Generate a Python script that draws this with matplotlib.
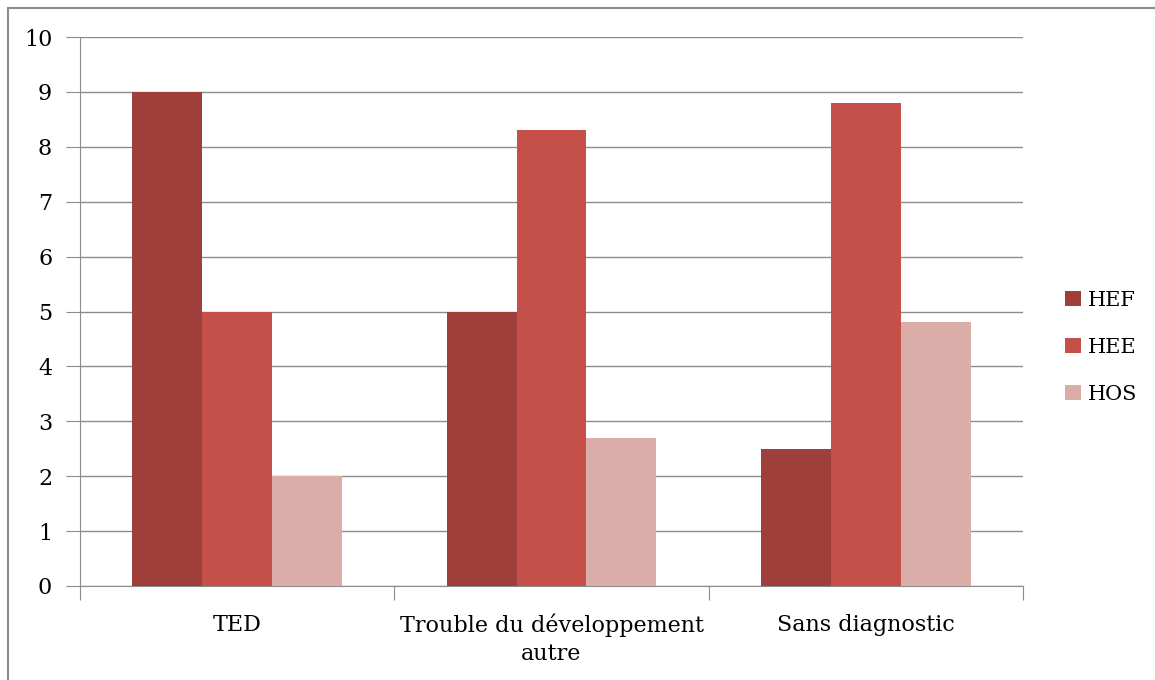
import matplotlib
matplotlib.use("Agg")
import matplotlib.pyplot as plt
import numpy as np
from matplotlib.patches import Rectangle

# data
categories = ["TED", "Trouble du développement\nautre", "Sans diagnostic"]
series = ["HEF", "HEE", "HOS"]
hef = [9.0, 5.0, 2.5]
hee = [5.0, 8.3, 8.8]
hos = [2.0, 2.7, 4.8]
colors = ["#9E3F3B", "#C5504A", "#DBADA8"]

plt.rcParams["font.family"] = ["DejaVu Serif"]

fig = plt.figure(figsize=(11.55, 6.8), dpi=100)
W, H = 1155, 680
ax = fig.add_axes([80 / W, 1 - 586 / H, (1023 - 80) / W, (586 - 37) / H])

# outer chart border (right and bottom edges fall outside the image)
fig.patches.append(Rectangle((8 / W, -0.01), 1.05, 1 - 8 / H + 0.01,
                             transform=fig.transFigure, fill=False,
                             edgecolor="#8c8c8c", linewidth=1.5))

x = np.arange(len(categories))
w = 1 / 4.5
for i, (vals, name) in enumerate(zip([hef, hee, hos], series)):
    ax.bar(x + (i - 1) * w, vals, width=w, color=colors[i], label=name, zorder=3)

ax.set_xlim(-0.5, 2.5)
ax.set_ylim(0, 10)
ax.set_yticks(range(0, 11))
ax.yaxis.grid(True, color="#8c8c8c", linewidth=1)
ax.set_axisbelow(True)
for s in ["top", "right"]:
    ax.spines[s].set_visible(False)
ax.spines["left"].set_color("#8c8c8c")
ax.spines["bottom"].set_color("#8c8c8c")

ax.set_xticks([-0.5, 0.5, 1.5, 2.5])
ax.set_xticklabels([])
ax.set_xticks(x, minor=True)
ax.set_xticklabels(categories, minor=True, fontsize=16, linespacing=1.35)
ax.tick_params(axis="x", which="major", length=10, color="#8c8c8c")
ax.tick_params(axis="x", which="minor", length=0, pad=20)
ax.tick_params(axis="y", length=10, color="#8c8c8c", labelsize=16, pad=10)

leg = ax.legend(loc="center left", bbox_to_anchor=(1.045, 0.435), frameon=False,
                fontsize=15, handlelength=0.75, handleheight=0.75,
                handletextpad=0.35, labelspacing=1.35, borderpad=0,
                borderaxespad=0)

fig.savefig("out.png", dpi=100)
